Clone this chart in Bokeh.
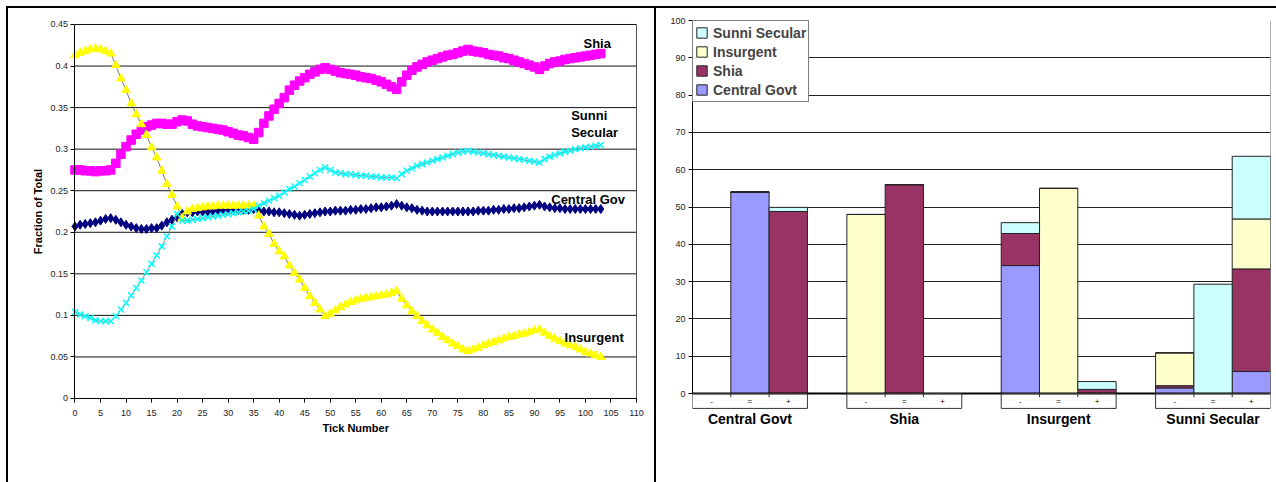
import math
from bokeh.plotting import figure
from bokeh.models import (Range1d, FactorRange, FixedTicker, NumeralTickFormatter, Label,
                          Legend, LegendItem, ColumnDataSource, Div)
from bokeh.layouts import row, column
from bokeh.embed import file_html
from bokeh.resources import INLINE
from bokeh.core.properties import value

FONT = "Liberation Sans"

# ---------------- data: left line chart ----------------
tick_number = list(range(104))
shia = [0.275, 0.275, 0.274, 0.274, 0.273, 0.274, 0.274, 0.275, 0.283, 0.294,
        0.303, 0.311, 0.318, 0.323, 0.327, 0.329, 0.331, 0.331, 0.330, 0.330,
        0.333, 0.335, 0.334, 0.330, 0.328, 0.327, 0.326, 0.325, 0.324, 0.323,
        0.321, 0.319, 0.317, 0.316, 0.314, 0.312, 0.320, 0.331, 0.340, 0.348,
        0.355, 0.362, 0.371, 0.377, 0.382, 0.386, 0.390, 0.393, 0.396, 0.398,
        0.396, 0.394, 0.392, 0.391, 0.390, 0.389, 0.387, 0.386, 0.385, 0.383,
        0.381, 0.378, 0.375, 0.372, 0.381, 0.389, 0.395, 0.399, 0.402, 0.405,
        0.407, 0.409, 0.411, 0.413, 0.414, 0.416, 0.418, 0.420, 0.418, 0.417,
        0.416, 0.414, 0.413, 0.412, 0.410, 0.409, 0.407, 0.405, 0.403, 0.401,
        0.399, 0.396, 0.400, 0.403, 0.405, 0.406, 0.408, 0.409, 0.410, 0.411,
        0.412, 0.413, 0.414, 0.415]
central_gov = [0.207, 0.209, 0.210, 0.211, 0.212, 0.214, 0.216, 0.217, 0.215, 0.212,
               0.209, 0.207, 0.205, 0.204, 0.204, 0.205, 0.205, 0.208, 0.212, 0.215,
               0.218, 0.222, 0.224, 0.224, 0.225, 0.225, 0.225, 0.226, 0.226, 0.226,
               0.226, 0.227, 0.227, 0.227, 0.227, 0.228, 0.226, 0.225, 0.225, 0.224,
               0.224, 0.223, 0.222, 0.221, 0.220, 0.221, 0.222, 0.223, 0.224, 0.225,
               0.225, 0.226, 0.226, 0.226, 0.227, 0.227, 0.228, 0.228, 0.229, 0.230,
               0.230, 0.231, 0.232, 0.234, 0.232, 0.230, 0.229, 0.227, 0.226, 0.225,
               0.225, 0.225, 0.225, 0.225, 0.225, 0.225, 0.225, 0.225, 0.225, 0.226,
               0.226, 0.226, 0.227, 0.227, 0.228, 0.228, 0.229, 0.229, 0.230, 0.231,
               0.232, 0.233, 0.231, 0.230, 0.229, 0.229, 0.228, 0.228, 0.228, 0.228,
               0.228, 0.228, 0.228, 0.228]
sunni_secular = [0.104, 0.101, 0.099, 0.097, 0.094, 0.093, 0.093, 0.093, 0.099, 0.107,
                 0.115, 0.124, 0.133, 0.142, 0.152, 0.162, 0.172, 0.183, 0.195, 0.207,
                 0.222, 0.214, 0.214, 0.215, 0.216, 0.217, 0.218, 0.219, 0.220, 0.221,
                 0.222, 0.223, 0.224, 0.225, 0.226, 0.228, 0.232, 0.235, 0.238, 0.241,
                 0.244, 0.248, 0.252, 0.255, 0.259, 0.263, 0.267, 0.271, 0.275, 0.278,
                 0.275, 0.272, 0.271, 0.270, 0.270, 0.269, 0.268, 0.268, 0.267, 0.267,
                 0.266, 0.266, 0.266, 0.265, 0.270, 0.274, 0.277, 0.280, 0.282, 0.284,
                 0.286, 0.288, 0.290, 0.292, 0.294, 0.296, 0.297, 0.298, 0.297, 0.296,
                 0.295, 0.294, 0.293, 0.292, 0.291, 0.290, 0.289, 0.288, 0.287, 0.286,
                 0.285, 0.284, 0.288, 0.291, 0.293, 0.295, 0.297, 0.298, 0.300, 0.301,
                 0.302, 0.303, 0.304, 0.305]
insurgent = [0.413, 0.416, 0.418, 0.420, 0.421, 0.420, 0.418, 0.415, 0.401, 0.385,
             0.371, 0.355, 0.342, 0.330, 0.317, 0.302, 0.290, 0.274, 0.258, 0.245,
             0.231, 0.217, 0.225, 0.228, 0.229, 0.230, 0.231, 0.231, 0.232, 0.232,
             0.232, 0.232, 0.232, 0.232, 0.232, 0.232, 0.220, 0.207, 0.198, 0.186,
             0.177, 0.171, 0.160, 0.151, 0.143, 0.133, 0.123, 0.115, 0.107, 0.099,
             0.102, 0.106, 0.110, 0.113, 0.116, 0.118, 0.120, 0.121, 0.122, 0.123,
             0.124, 0.125, 0.127, 0.129, 0.120, 0.112, 0.105, 0.099, 0.093, 0.088,
             0.083, 0.079, 0.074, 0.070, 0.066, 0.063, 0.059, 0.057, 0.059, 0.061,
             0.064, 0.066, 0.068, 0.070, 0.072, 0.074, 0.075, 0.077, 0.078, 0.080,
             0.082, 0.083, 0.079, 0.075, 0.072, 0.069, 0.066, 0.064, 0.062, 0.059,
             0.056, 0.054, 0.052, 0.050]
x_ticks = list(range(0, 111, 5))
y_ticks = [0, 0.05, 0.1, 0.15, 0.2, 0.25, 0.3, 0.35, 0.4, 0.45]

# ---------------- data: right stacked bar chart ----------------
groups = ["Central Govt", "Shia", "Insurgent", "Sunni Secular"]
changes = ["-", "=", "+"]
bar_factors = [(g, c) for g in groups for c in changes]
series_names = ["Central Govt", "Shia", "Insurgent", "Sunni Secular"]
bar_central = [0, 54.0, 0, 0, 0, 0, 34.3, 0, 0, 1.5, 0, 5.9]
bar_shia = [0, 0, 48.8, 0, 56.0, 0, 8.6, 0, 1.1, 0.6, 0, 27.5]
bar_insurgent = [0, 0, 0, 48.0, 0, 0, 0, 55.0, 0, 8.8, 0, 13.4]
bar_sunni = [0, 0, 1.1, 0, 0, 0, 2.9, 0, 2.1, 0, 29.3, 16.8]
bar_colors = ["#9999FF", "#993366", "#FFFFCC", "#CCFFFF"]
bar_y_ticks = list(range(0, 101, 10))

# shared vertical frame geometry (both frames span the same rows: y 20..440)
FIG_H = 474
TOP = 12
BOTTOM = 42

# ---------------- left figure ----------------
# the frame covers nearly the whole figure so that axes drawn at fixed
# positions keep all their labels; data 0..110 maps to x 74.5..636
left = figure(width=646, height=FIG_H, output_backend="svg", toolbar_location=None,
              x_range=Range1d(-11.851, 112.351), y_range=Range1d(-0.05054, 0.45481),
              min_border_left=6, min_border_right=6, min_border_top=TOP, min_border_bottom=BOTTOM)
left.background_fill_color = "white"
left.border_fill_color = "white"
left.outline_line_color = None
left.xgrid.visible = False
left.ygrid.visible = False

for ax in (left.xaxis[0], left.yaxis[0]):
    ax.axis_line_color = "black"
    ax.major_tick_line_color = "black"
    ax.major_tick_in = 0
    ax.major_tick_out = 4
    ax.minor_tick_line_color = None
    ax.major_label_text_font = FONT
    ax.major_label_text_font_size = "9px"
    ax.major_label_text_color = "#222222"
left.xaxis.ticker = FixedTicker(ticks=x_ticks)
left.xaxis.fixed_location = 0
left.xaxis.bounds = (0, 110)
left.xaxis.major_label_standoff = 8
left.yaxis.ticker = FixedTicker(ticks=y_ticks)
left.yaxis.fixed_location = 0
left.yaxis.bounds = (0, 0.45)
left.yaxis.formatter = NumeralTickFormatter(format="0.[00]")
left.yaxis.major_label_standoff = 3

# horizontal gridlines across the plot area only
left.segment(x0=[x_ticks[0]] * len(y_ticks), y0=y_ticks, x1=[x_ticks[-1]] * len(y_ticks), y1=y_ticks,
             line_color="#111111", line_width=1)
# plot-area right edge
left.segment(x0=[x_ticks[-1]], y0=[y_ticks[0]], x1=[x_ticks[-1]], y1=[y_ticks[-1]],
             line_color="#555555", line_width=1)

# axis titles
left.text(x=[-7.15], y=[0.225], text=["Fraction of Total"], angle=math.pi / 2,
          text_font=value(FONT), text_font_size="11px", text_font_style="bold",
          text_color="black", text_align="center", text_baseline="middle")
left.text(x=[55], y=[-0.0361], text=["Tick Number"],
          text_font=value(FONT), text_font_size="11px", text_font_style="bold",
          text_color="black", text_align="center", text_baseline="middle")

src = ColumnDataSource(dict(t=tick_number, shia=shia, cg=central_gov, su=sunni_secular, ins=insurgent))
left.line("t", "shia", source=src, line_color="#777777", line_width=1)
left.scatter("t", "shia", source=src, marker="square", size=8.5, fill_color="#FF00FF", line_color="#FF00FF")
left.line("t", "cg", source=src, line_color="#000080", line_width=1)
left.scatter("t", "cg", source=src, marker="diamond", size=9, fill_color="#000080", line_color="#000080")
left.line("t", "ins", source=src, line_color="#777777", line_width=1)
left.scatter("t", "ins", source=src, marker="triangle", size=8.5, fill_color="#FFFF00", line_color="#FFFF00")
left.line("t", "su", source=src, line_color="#888888", line_width=1)
left.scatter("t", "su", source=src, marker="x", size=8.5, line_color="#00FFFF", line_width=1.5)

def series_label(x, y, text, align="left"):
    left.add_layout(Label(x=x, y=y, text=text, text_font=FONT, text_font_size="13px",
                          text_font_style="bold", text_color="black", text_align=align,
                          text_baseline="middle"))

series_label(102.3, 0.427, "Shia", "center")
series_label(97.2, 0.3405, "Sunni")
series_label(97.2, 0.3205, "Secular")
series_label(93.3, 0.2395, "Central Gov")
series_label(95.9, 0.0738, "Insurgent")

# ---------------- right figure ----------------
right = figure(width=620, height=FIG_H, output_backend="svg", toolbar_location=None,
               x_range=FactorRange(*bar_factors, group_padding=1.03, range_padding=0),
               y_range=Range1d(-12.6, 100), x_axis_location=None,
               min_border_left=36, min_border_right=6, min_border_top=TOP, min_border_bottom=BOTTOM)
right.background_fill_color = "white"
right.border_fill_color = "white"
right.outline_line_color = None
right.xgrid.visible = False
right.ygrid.ticker = FixedTicker(ticks=bar_y_ticks)
right.ygrid.grid_line_color = "#222222"
right.ygrid.grid_line_width = 1

ya = right.yaxis[0]
ya.ticker = FixedTicker(ticks=bar_y_ticks)
ya.bounds = (0, 100)
ya.axis_line_color = "black"
ya.major_tick_line_color = "black"
ya.major_tick_in = 0
ya.major_tick_out = 4
ya.minor_tick_line_color = None
ya.major_label_text_font = FONT
ya.major_label_text_font_size = "9px"
ya.major_label_text_color = "#222222"
ya.major_label_standoff = 3

bsrc = ColumnDataSource({"x": bar_factors, "Central Govt": bar_central, "Shia": bar_shia,
                         "Insurgent": bar_insurgent, "Sunni Secular": bar_sunni})
renderers = right.vbar_stack(series_names, x="x", width=1.0, color=bar_colors,
                             line_color="#222222", line_width=1, source=bsrc)

# category axis line at zero and right plot-area edge
right.segment(x0=[("Central Govt", "-", -0.5)], y0=[0], x1=[("Sunni Secular", "+", 0.5)], y1=[0],
              line_color="black", line_width=2)
right.segment(x0=[("Sunni Secular", "+", 0.5)], y0=[0], x1=[("Sunni Secular", "+", 0.5)], y1=[100],
              line_color="#666666", line_width=1)

# multi-level category boxes and labels
box_src = ColumnDataSource(dict(x=[(g, "=") for g in groups], y=[-2.0] * 4))
right.rect(x="x", y="y", width=3, height=4, source=box_src, fill_color=None,
           line_color="#333333", line_width=1)
sep_x = [(g, c, 0.5) for g in groups for c in ["-", "="]]
right.segment(x0=sep_x, y0=[0] * len(sep_x), x1=sep_x, y1=[-1.0] * len(sep_x),
              line_color="#333333", line_width=1)
sub_src = ColumnDataSource(dict(x=bar_factors, y=[-2.2] * len(bar_factors),
                                t=[c for g in groups for c in changes]))
right.text(x="x", y="y", text="t", source=sub_src, text_font=value(FONT), text_font_size="8px",
           text_align="center", text_baseline="middle", text_color="black")
grp_src = ColumnDataSource(dict(x=[(g, "=") for g in groups], y=[-6.8] * 4, t=groups))
right.text(x="x", y="y", text="t", source=grp_src, text_font=value(FONT), text_font_size="14px",
           text_font_style="bold", text_align="center", text_baseline="middle", text_color="black")

legend = Legend(items=[LegendItem(label=n, renderers=[r]) for n, r in
                       reversed(list(zip(series_names, renderers)))],
                location="top_left", margin=0, padding=2, spacing=0,
                glyph_width=13, glyph_height=13, label_height=19, label_standoff=5,
                label_text_font=FONT, label_text_font_size="14px", label_text_font_style="bold",
                border_line_color="black", border_line_width=1,
                background_fill_color="white", background_fill_alpha=1)
right.add_layout(legend)

# ---------------- page frame ----------------
def block(w, h, color=None):
    st = {"padding": "0", "overflow": "hidden"}
    if color:
        st["background-color"] = color
    return Div(text="", width=w, height=h, margin=(0, 0, 0, 0), styles=st)

top_band = row(block(6, 8), column(block(1270, 6), block(1270, 2, "black"), spacing=0), spacing=0)
body = row(block(6, FIG_H), block(2, FIG_H, "black"), left, block(2, FIG_H, "black"), right, spacing=0)
page = column(top_band, body, spacing=0)

open("out.html", "w").write(file_html(page, INLINE))
